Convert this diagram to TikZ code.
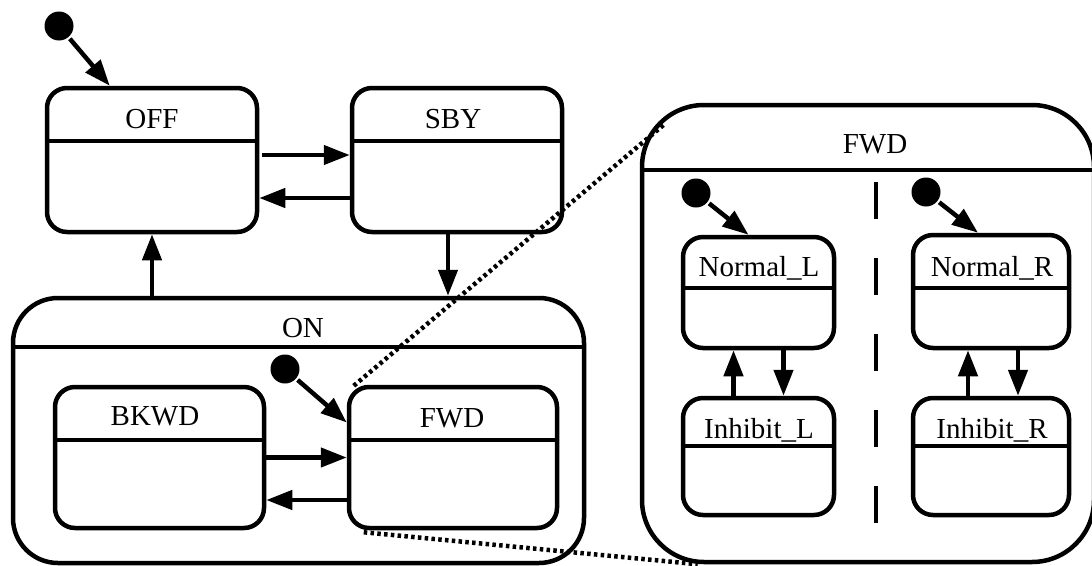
\documentclass[tikz,border=0pt]{standalone}
\usepackage{fontspec}
\setmainfont{Liberation Serif}
\usetikzlibrary{arrows.meta,calc}
\begin{document}
\begin{tikzpicture}[x=1pt,y=-1pt,line width=4.5pt,
  box/.style={draw, rectangle, rounded corners=20pt, inner sep=0pt},
  ttl/.style={font=\fontsize{29}{34}\selectfont, inner sep=0pt, anchor=base},
  ini/.style={circle, fill, minimum size=29pt, inner sep=0pt},
  arr/.style={-{Triangle[length=26pt,width=19pt]}},
  zoomln/.style={line width=4.5pt, dash pattern=on 3.5pt off 3.3pt}]
\useasboundingbox (0,0) rectangle (1092,565);
\node[box, minimum width=210pt, minimum height=144pt] (off) at (152,160){};
\draw[]($(off.north west)+(0,55)$) -- ($(off.north east)+(0,55)$);
\node[ttl] (offT) at (152,128){OFF};
\node[box, minimum width=210pt, minimum height=144pt] (sby) at (457,160){};
\draw[]($(sby.north west)+(0,55)$) -- ($(sby.north east)+(0,55)$);
\node[ttl] (sbyT) at (453,128){SBY};
\node[ini] (ini0) at (59,26){};
\draw[arr](ini0) -- ($(off.north west)+(65,0)$);
\draw[arr]($(off.east)+(3,-5)$) -- ($(sby.west)+(0,-5)$);
\draw[arr]($(sby.west)+(0,38)$) -- ($(off.east)+(0,38)$);
\node[box, rounded corners=45pt, minimum width=571pt, minimum height=265pt] (on) at (298.5,430.5){};
\draw[]($(on.north west)+(0,51)$) -- ($(on.north east)+(0,51)$);
\node[ttl] (onT) at (303,337){ON};
\draw[arr](off.south |- on.north) -- (off.south);
\draw[arr]($(sby.south)+(-9,0)$) -- ($(sby.south |- on.north)+(-9,0)$);
\node[box, minimum width=209pt, minimum height=141pt] (bkwd) at (159.5,457.5){};
\draw[]($(bkwd.north west)+(0,55)$) -- ($(bkwd.north east)+(0,55)$);
\node[ttl] (bkwdT) at (155,425){BKWD};
\node[box, minimum width=208pt, minimum height=141pt] (fwd) at (453,457.5){};
\draw[]($(fwd.north west)+(0,55)$) -- ($(fwd.north east)+(0,55)$);
\node[ttl] (fwdT) at (452,427){FWD};
\node[ini] (ini1) at (285,369){};
\draw[arr](ini1) -- ($(fwd.west)+(0,-35)$);
\draw[arr](bkwd.east) -- (fwd.west);
\draw[arr]($(fwd.west)+(0,42.5)$) -- ($(bkwd.east)+(0,42.5)$);
\node[box, rounded corners=62pt, minimum width=452pt, minimum height=457pt] (zfwd) at (868,333.5){};
\draw[]($(zfwd.north west)+(0,67)$) -- ($(zfwd.north east)+(0,67)$);
\node[ttl] (zfwdT) at (875,153){FWD};
\draw[zoomln]($(fwd.north west)+(7,1)$) -- ($(zfwd.north west)+(24,22)$);
\draw[zoomln]($(fwd.south west)+(17,2)$) -- ($(zfwd.south west)+(58,0)$);
\draw[dash pattern=on 37pt off 39pt](876,182) -- (876,527);
\node[box, minimum width=151pt, minimum height=111pt] (nrmL) at (758.5,292.5){};
\draw[]($(nrmL.north west)+(0,53)$) -- ($(nrmL.north east)+(0,53)$);
\node[ttl] (nrmLT) at (759,276){Normal\_L};
\node[box, minimum width=151pt, minimum height=117pt] (inhL) at (758.5,456.5){};
\draw[]($(inhL.north west)+(0,50)$) -- ($(inhL.north east)+(0,50)$);
\node[ttl] (inhLT) at (759,438){Inhibit\_L};
\node[ini] (ini2) at (696,193){};
\draw[arr](ini2) -- ($(nrmL.north)+(-10,0)$);
\draw[arr]($(inhL.north)+(-25,0)$) -- ($(nrmL.south)+(-25,0)$);
\draw[arr]($(nrmL.south)+(25,0)$) -- ($(inhL.north)+(25,0)$);
\node[box, minimum width=156pt, minimum height=113pt] (nrmR) at (991,291.5){};
\draw[]($(nrmR.north west)+(0,55)$) -- ($(nrmR.north east)+(0,55)$);
\node[ttl] (nrmRT) at (992,276){Normal\_R};
\node[box, minimum width=156pt, minimum height=117pt] (inhR) at (991,456.5){};
\draw[]($(inhR.north west)+(0,50)$) -- ($(inhR.north east)+(0,50)$);
\node[ttl] (inhRT) at (992,438){Inhibit\_R};
\node[ini] (ini3) at (926,192){};
\draw[arr](ini3) -- ($(nrmR.north)+(-13,0)$);
\draw[arr]($(inhR.north)+(-23,0)$) -- ($(nrmR.south)+(-23,0)$);
\draw[arr]($(nrmR.south)+(27,0)$) -- ($(inhR.north)+(27,0)$);
\end{tikzpicture}
\end{document}
